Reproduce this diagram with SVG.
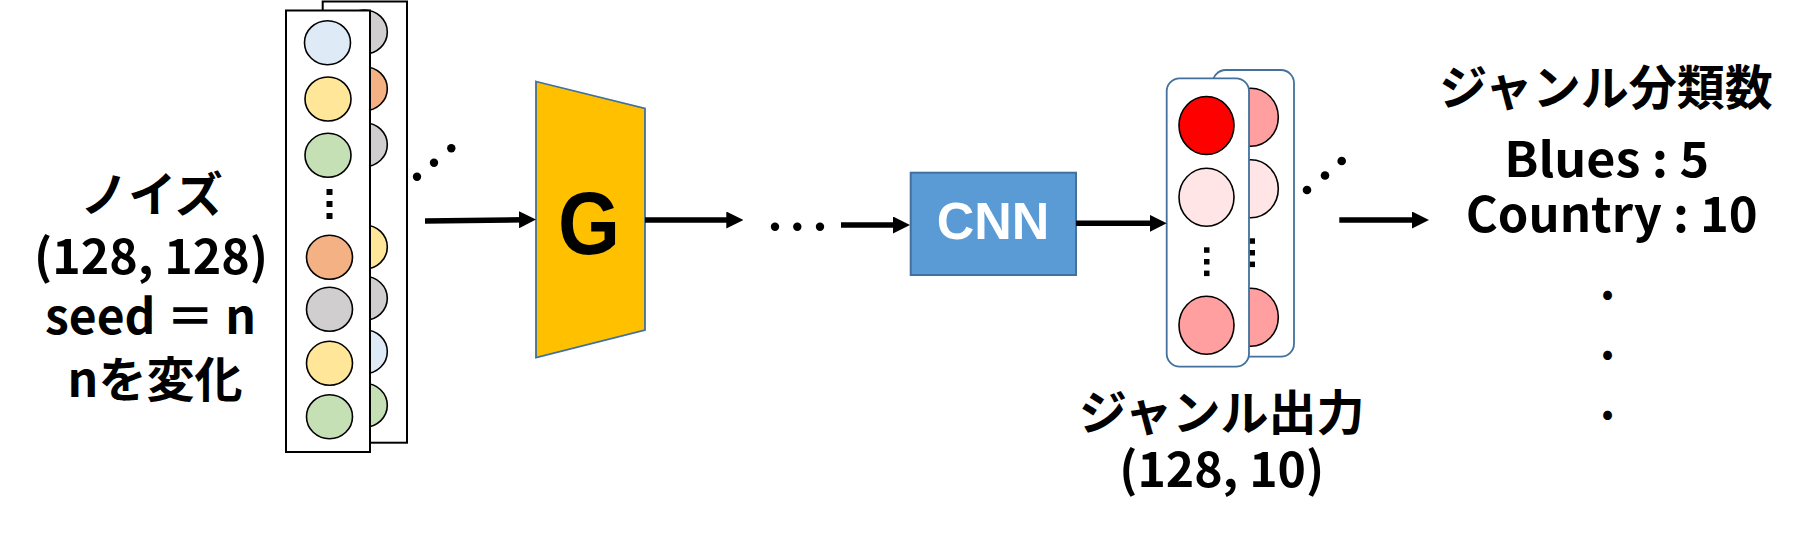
<svg xmlns="http://www.w3.org/2000/svg" width="1810" height="534" viewBox="0 0 1810 534">
<style>
.t{font-family:"Noto Sans CJK JP","Liberation Sans",sans-serif;font-weight:bold;font-size:48px;fill:#000;text-anchor:middle}
.pan{fill:#fff;stroke:#000;stroke-width:2}
.opan{fill:#fff;stroke:#41719C;stroke-width:1.8}
.c{stroke:#000;stroke-width:1.6}
.lb{fill:#DEEBF7}.ye{fill:#FFE699}.gr{fill:#C5E0B4}.or{fill:#F4B183}.gy{fill:#D0CECE}
.rd{fill:#FF0000}.lp{fill:#FFE5E5}.pk{fill:#FF9F9F}
.conn{stroke:#000;stroke-width:5.5;fill:none}
</style>
<defs>
<marker id="ah" markerUnits="userSpaceOnUse" markerWidth="17" markerHeight="17" viewBox="0 0 17 17" refX="5" refY="8.5" orient="auto">
<path d="M0,0 L17,8.5 L0,17 z" fill="#000"/>
</marker>
</defs>

<g id="noise-label">
<text class="t" x="151.5" y="212">ノイズ</text>
<text class="t" x="151" y="274" textLength="234" lengthAdjust="spacingAndGlyphs">(128, 128)</text>
<text class="t" x="150.5" y="333.5" textLength="211" lengthAdjust="spacingAndGlyphs">seed ＝ n</text>
<text class="t" x="155" y="396.5">nを変化</text>
</g>

<g id="noise-vectors">
<rect class="pan" x="322.7" y="1.5" width="84.3" height="441.2"/>
<ellipse class="c gy" cx="364.3" cy="32" rx="23" ry="22"/>
<ellipse class="c or" cx="364.3" cy="88.7" rx="23" ry="22"/>
<ellipse class="c gy" cx="364.3" cy="144.7" rx="23" ry="22"/>
<ellipse class="c ye" cx="364.3" cy="247" rx="23" ry="22"/>
<ellipse class="c gy" cx="364.3" cy="298.3" rx="23" ry="22"/>
<ellipse class="c lb" cx="364.3" cy="351.7" rx="23" ry="22"/>
<ellipse class="c gr" cx="364.3" cy="405.3" rx="23" ry="22"/>
<rect class="pan" x="286" y="10.5" width="84" height="441.5"/>
<ellipse class="c lb" cx="327.5" cy="42.7" rx="23" ry="22"/>
<ellipse class="c ye" cx="328" cy="99" rx="23" ry="22"/>
<ellipse class="c gr" cx="328" cy="155.3" rx="23" ry="22"/>
<rect x="326.5" y="189" width="6" height="6"/>
<rect x="326.5" y="201" width="6" height="6"/>
<rect x="326.5" y="213" width="6" height="6"/>
<ellipse class="c or" cx="329.5" cy="257.3" rx="23" ry="22"/>
<ellipse class="c gy" cx="329.5" cy="309.3" rx="23" ry="22"/>
<ellipse class="c ye" cx="329.5" cy="363.3" rx="23" ry="22"/>
<ellipse class="c gr" cx="329.5" cy="416.7" rx="23" ry="22"/>
<circle cx="417" cy="176.7" r="4.2"/>
<circle cx="434" cy="162.7" r="4.2"/>
<circle cx="451.3" cy="148.3" r="4.2"/>
</g>

<g id="generator">
<polygon points="536,81.5 645,108.5 645,330 536,357.5" fill="#FFC000" stroke="#41719C" stroke-width="1.8"/>
<text x="589" y="254" font-family="Liberation Sans, Arial, sans-serif" font-weight="bold" font-size="89" text-anchor="middle" fill="#000" textLength="62" lengthAdjust="spacingAndGlyphs">G</text>
</g>

<g id="ellipsis">
<circle cx="775" cy="226.7" r="4.2"/>
<circle cx="797.3" cy="226.7" r="4.2"/>
<circle cx="820" cy="226.7" r="4.2"/>
</g>

<g id="cnn">
<rect x="910.7" y="172.7" width="165.3" height="102.3" fill="#5B9BD5" stroke="#41719C" stroke-width="2"/>
<text x="993" y="239" font-family="Liberation Sans, Arial, sans-serif" font-weight="bold" font-size="52" text-anchor="middle" fill="#fff">CNN</text>
</g>

<g id="genre-output">
<rect class="opan" x="1212.7" y="70" width="81.3" height="286.7" rx="13"/>
<ellipse class="c pk" cx="1250.8" cy="117.2" rx="27.5" ry="29"/>
<ellipse class="c lp" cx="1250.8" cy="188.8" rx="27.5" ry="29"/>
<rect x="1249.5" y="238.3" width="5.5" height="5.5"/>
<rect x="1249.5" y="250" width="5.5" height="5.5"/>
<rect x="1249.5" y="261.6" width="5.5" height="5.5"/>
<ellipse class="c pk" cx="1250.8" cy="317.2" rx="27.5" ry="29"/>
<rect class="opan" x="1166.7" y="78.3" width="82.3" height="288.4" rx="13"/>
<ellipse class="c rd" cx="1206.5" cy="125.5" rx="27.5" ry="29"/>
<ellipse class="c lp" cx="1206.5" cy="197.3" rx="27.5" ry="29"/>
<rect x="1204" y="247.3" width="5.5" height="5.5"/>
<rect x="1204" y="259" width="5.5" height="5.5"/>
<rect x="1204" y="270.6" width="5.5" height="5.5"/>
<ellipse class="c pk" cx="1206.5" cy="325.3" rx="27.5" ry="29"/>
<circle cx="1307" cy="190" r="4.3"/>
<circle cx="1325" cy="175.5" r="4.3"/>
<circle cx="1341.7" cy="161" r="4.3"/>
<text class="t" x="1221.7" y="430">ジャンル出力</text>
<text class="t" x="1221.7" y="487" textLength="205" lengthAdjust="spacingAndGlyphs">(128, 10)</text>
</g>

<g id="genre-classes">
<text class="t" x="1606" y="105" font-size="49">ジャンル分類数</text>
<text class="t" x="1606.7" y="177" textLength="205" lengthAdjust="spacingAndGlyphs">Blues : 5</text>
<text class="t" x="1611.7" y="232" textLength="292" lengthAdjust="spacingAndGlyphs">Country : 10</text>
<text class="t" x="1607.5" y="299">.</text>
<text class="t" x="1607.5" y="359">.</text>
<text class="t" x="1607.5" y="419">.</text>
</g>

<g id="connectors">
<line class="conn" x1="425" y1="221" x2="524" y2="219.7" marker-end="url(#ah)"/>
<line class="conn" x1="645" y1="220" x2="731.3" y2="220" marker-end="url(#ah)"/>
<line class="conn" x1="841" y1="225" x2="898" y2="225" marker-end="url(#ah)"/>
<line class="conn" x1="1076" y1="223.3" x2="1154.7" y2="223.3" marker-end="url(#ah)"/>
<line class="conn" x1="1339.3" y1="220" x2="1417" y2="220" marker-end="url(#ah)"/>
</g>
</svg>
